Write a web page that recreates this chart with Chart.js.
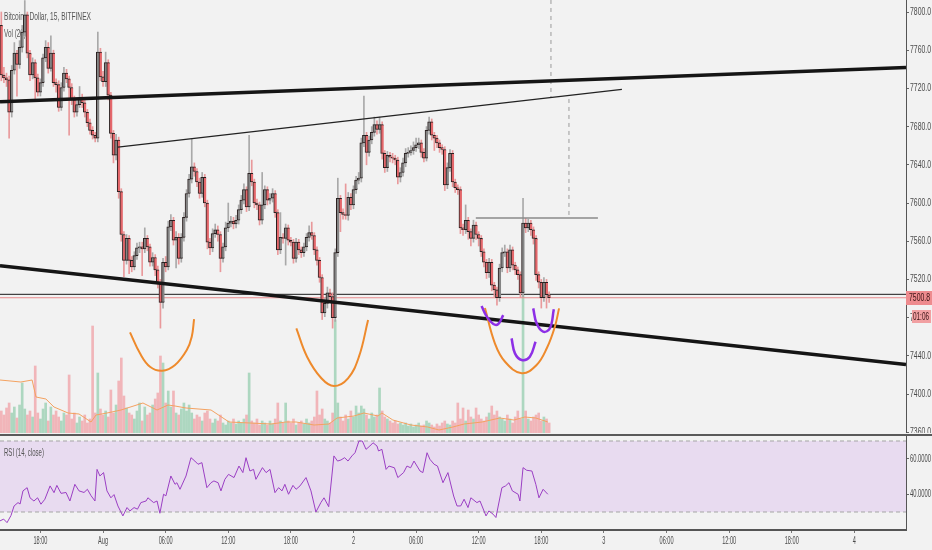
<!DOCTYPE html>
<html><head><meta charset="utf-8">
<script src="https://cdn.jsdelivr.net/npm/chart.js@4.4.1/dist/chart.umd.min.js"></script>
<style>
html,body{margin:0;padding:0;background:#f2f2f2;overflow:hidden;}
#wrap{position:relative;width:932px;height:550px;}
canvas{position:absolute;left:0;}
#c1{top:0;} #c2{top:433px;}
</style></head><body>
<div id="wrap"><canvas id="c1" width="932" height="433"></canvas><canvas id="c2" width="932" height="117"></canvas></div>
<script>
// ---------- DATA (15-minute candles, index 0 = Jul 31 14:15) ----------
const firstOpen = 7786;
const closes = [
7734,7731,7729,7695,7739,7757,7745,7763,7779,7797,
7757,7734,7747,7731,7716,7726,7752,7763,7741,7757,
7726,7724,7700,7721,7736,7730,7721,7708,7695,7703,
7710,7705,7695,7684,7676,7671,7668,7758,7732,7727,
7747,7713,7673,7650,7666,7612,7567,7540,7563,7540,
7533,7545,7553,7554,7552,7563,7554,7538,7543,7530,
7516,7496,7538,7533,7575,7582,7561,7564,7542,7564,
7585,7610,7625,7638,7633,7622,7610,7627,7600,7559,
7553,7568,7572,7567,7542,7554,7574,7579,7581,7578,
7582,7593,7603,7614,7596,7631,7622,7600,7598,7582,
7598,7614,7603,7605,7610,7590,7551,7564,7563,7574,
7561,7559,7542,7559,7551,7548,7554,7564,7569,7566,
7551,7540,7522,7485,7495,7506,7502,7480,7548,7605,
7590,7588,7587,7606,7598,7614,7624,7626,7663,7671,
7653,7666,7674,7682,7677,7682,7652,7637,7650,7648,
7647,7645,7627,7632,7642,7652,7653,7655,7658,7661,
7663,7653,7647,7676,7685,7671,7668,7663,7658,7656,
7619,7637,7652,7622,7616,7614,7574,7572,7582,7570,
7563,7577,7567,7563,7549,7538,7527,7538,7514,7509,
7501,7532,7548,7549,7532,7551,7535,7530,7525,7506,
7579,7574,7579,7572,7563,7525,7517,7501,7517,7504,
7500.8];
const highs = [
7800,7742,7736,7733,7744,7768,7760,7770,7786,7812,
7800,7760,7752,7750,7735,7730,7756,7770,7768,7775,
7760,7730,7728,7726,7742,7740,7733,7725,7712,7708,
7722,7714,7709,7698,7688,7680,7674,7779,7762,7738,
7758,7750,7716,7676,7672,7669,7615,7570,7567,7566,
7544,7549,7558,7559,7559,7574,7566,7557,7548,7546,
7534,7520,7542,7544,7581,7588,7585,7570,7568,7568,
7590,7614,7630,7667,7642,7636,7626,7632,7630,7603,
7563,7573,7578,7576,7570,7558,7580,7600,7586,7585,
7587,7598,7608,7620,7617,7671,7645,7625,7604,7601,
7632,7618,7617,7610,7615,7613,7593,7590,7568,7578,
7577,7564,7562,7563,7562,7554,7558,7568,7576,7580,
7569,7554,7543,7525,7500,7512,7510,7506,7552,7626,
7608,7594,7620,7611,7610,7618,7628,7632,7668,7712,
7674,7670,7680,7690,7686,7690,7685,7655,7654,7653,
7652,7650,7648,7637,7647,7657,7658,7660,7664,7668,
7668,7666,7657,7680,7690,7688,7674,7671,7666,7661,
7659,7642,7656,7655,7625,7619,7617,7578,7598,7585,
7573,7582,7580,7570,7566,7552,7541,7542,7541,7517,
7512,7536,7553,7556,7552,7556,7554,7538,7533,7528,
7605,7584,7583,7582,7575,7566,7528,7520,7522,7520,
7507];
const lows = [
7728,7726,7722,7668,7690,7735,7712,7741,7758,7775,
7752,7728,7730,7708,7712,7712,7722,7748,7736,7738,
7722,7716,7696,7697,7717,7726,7671,7703,7690,7691,
7700,7700,7690,7680,7672,7667,7664,7664,7728,7722,
7722,7708,7668,7642,7645,7605,7560,7523,7536,7526,
7528,7530,7541,7548,7524,7548,7550,7534,7534,7524,
7511,7469,7490,7528,7530,7571,7556,7532,7536,7538,
7560,7581,7606,7621,7628,7617,7605,7606,7596,7552,
7546,7549,7564,7560,7528,7538,7550,7570,7575,7573,
7574,7578,7589,7599,7591,7592,7618,7595,7593,7577,
7578,7594,7598,7599,7601,7585,7546,7547,7558,7535,
7556,7555,7537,7538,7546,7543,7544,7550,7560,7562,
7546,7535,7517,7478,7481,7490,7497,7469,7476,7544,
7570,7583,7583,7582,7593,7594,7610,7620,7622,7659,
7640,7649,7662,7670,7672,7673,7646,7632,7633,7643,
7642,7640,7620,7622,7628,7638,7648,7650,7651,7654,
7657,7648,7643,7644,7672,7666,7655,7658,7653,7651,
7613,7615,7633,7617,7611,7609,7568,7566,7568,7562,
7555,7559,7562,7555,7544,7533,7521,7522,7508,7502,
7493,7497,7528,7544,7527,7528,7530,7525,7520,7501,
7502,7569,7570,7566,7557,7519,7511,7490,7497,7490,
7496];
const volumes = [
88,72,100,120,80,104,60,112,200,96,
72,88,64,268,80,56,96,120,48,104,
72,88,64,48,80,72,232,56,80,40,
64,48,72,40,56,428,80,240,96,72,
88,64,172,80,112,208,300,148,100,80,
72,56,88,120,48,104,72,80,112,136,
160,308,280,120,168,104,168,80,72,96,
120,88,112,80,56,72,64,48,80,88,
56,40,56,48,72,40,32,48,40,56,
36,48,40,56,72,240,48,40,56,32,
48,40,32,48,36,56,120,48,40,120,
48,40,56,32,40,48,36,56,40,48,
64,168,72,96,56,48,40,80,452,120,
64,48,72,56,88,64,108,80,108,96,
72,56,80,64,72,180,88,64,56,48,
40,48,36,40,32,40,28,36,24,32,
40,28,32,48,40,32,24,36,28,40,
48,36,32,48,40,120,56,100,48,92,
64,56,100,72,56,48,64,80,108,72,
88,64,56,48,72,56,40,64,88,56,
552,88,56,48,64,72,80,48,64,56,
40];
// Vol(20) moving average, read at candle positions
const volMaIdx = [-0.5,7.5,11.8,13.3,17.1,20.2,25.6,29.8,34.4,36.3,40.5,45.9,54.3,59.7,63.9,66.6,70.8,80.4,87.3,95.3,103.4,109.1,113,119.9,125.6,128.7,135.2,139,144.4,145.9,150.1,157,163.5,167.8,173.1,177.4,184.3,191.1,196.5,200.7,204.9,209.5];
const volMaVal = [212,204,212,144,136,104,80,76,44,72,80,92,120,92,112,108,100,92,44,40,36,44,44,32,36,60,68,80,68,80,52,32,24,12,24,36,44,60,52,64,60,44];
// RSI(14), read at line vertices
const rsiIdx = [-0.5,0.9,2.2,3.7,4.9,6.4,7.2,8.3,9.9,11,12.5,13.9,15.2,16.7,18.7,20.2,21.3,22.9,24.8,26.3,28.2,29.8,31.7,33,34.4,35.9,36.7,37.8,39.2,40.5,42,43.2,44.7,46.6,48.2,49.3,50.9,52.2,53.5,55.5,56.2,58.4,59.7,60.8,62.2,63.1,65,66.6,67.3,68.5,70.8,72.7,74.2,75.4,76.9,78.8,80.4,81.5,83.1,84.2,85.7,87.1,89.2,91.1,92.6,93.8,95.3,96.7,97.6,100.1,101.5,103,104.9,106.3,107.6,108.7,110.1,111.8,113,114.5,116.8,118.7,120.6,122.5,123.7,125.5,127.5,128.9,130.2,131.6,132.9,134.4,135.6,137.1,138.4,139.8,141.3,142.5,144,144.6,145.9,147.5,148.6,150.7,152,154.2,155.5,156.9,158.2,160.5,161.6,163.2,164.3,165.9,167.2,169.3,171.2,173.4,174.7,176.1,177.4,178.9,180,182.3,183.5,185.8,186.9,188.5,189.6,191.9,193.3,194.6,195.9,198.1,198.8,200,201.4,203.4,204.9,206.1,207.7,209.5];
const rsiVal = [25,26,24,28,33.4,35.3,34.5,41.9,43.7,38,36.2,38,34.4,37.2,44.7,40.9,45,40.5,41,36.2,45.6,41.9,41,42.8,39.2,36.2,54,50.3,52.2,41.9,38,39.8,33.4,27.8,32.5,30.6,32.5,31.6,35.3,36.2,38,35.3,36.2,29.3,40,39.1,50.3,45.6,46.5,42.8,50.3,60.6,58.7,56.9,57.8,43.7,46.5,47.5,46.5,41.9,48.4,51.2,49.4,55.9,52.2,60.6,53.1,54,48.4,55,52.2,54,40.9,43.7,41.9,45.6,40,45,42.8,44.7,49.4,41.9,30,35.3,38,33,61.6,58.7,59.3,60.6,58.7,61.6,63.4,70,70,65.3,67.2,69,67.2,64.4,65.3,54,55.9,54.9,49.4,52.2,55.9,54.9,58.7,53.1,52.2,63.4,59.7,56.9,55.9,46.5,52.2,39,33.4,33.4,37.2,32.5,38,35.3,36.2,27.8,30.6,28.8,26.9,43.7,44.7,46.5,41.9,40,36.2,55,53.5,53.1,45.6,38,42.8,40];
// Axis ticks
const priceTicks = [7360,7400,7440,7480,7520,7560,7600,7640,7680,7720,7760,7800];
const rsiTicks = [60,40];
const rsiBands = [70,30];
const timeTickIdx = [15,39,63,87,111,135,159,183,207,231,255,279,303,327];
const timeTickLabels = ['18:00','Aug','06:00','12:00','18:00','2','06:00','12:00','18:00','3','06:00','12:00','18:00','4'];
// Drawings [candle index, price]
const upperTrend = [[-0.5,7706.1],[346.8,7741.9]];
const lowerTrend = [[-0.5,7534.4],[346.8,7430.9]];
const thinTrend = [[44.7,7658.6],[237.9,7718.9]];
const greyLevel = [[181.9,7584.3],[228.7,7584.3]];
const dashV1 = [[217.6,7587.5],[217.6,7713.1]];
const dashV2 = [[210.7,7812.6],[210.7,7711.0]];
const blackLevel = [[-0.5,7504.4],[346.8,7504.4]];
const orange1 = [[49.33,7464.6],[53.16,7442.6],[57.0,7428.6],[61.7,7424.4],[66.6,7430.4],[71.1,7446.1],[73.0,7460.0],[73.9,7478.5]];
const orange2 = [[113.1,7468.8],[117.2,7439.1],[122.7,7416.5],[127.5,7408.4],[132.9,7416.5],[137.1,7439.1],[140.6,7477.5]];
const orange3 = [[185.4,7490.1],[189.2,7453.1],[193.1,7433.8],[199.5,7421.7],[205.2,7430.4],[209.1,7447.9],[212.2,7470.5],[213.8,7489.7]];
const purple1 = [[184.1,7492.2],[186.1,7481.0],[188.6,7473.3],[190.5,7473.3],[192.4,7482.7]];
const purple2 = [[195.6,7458.3],[196.9,7442.6],[199.5,7435.6],[202.6,7439.1],[204.8,7454.8]];
const purple3 = [[203.9,7489.7],[205.2,7474.0],[207.7,7465.3],[210.3,7468.8],[211.8,7488.7]];
const X_MIN = -0.5, X_MAX = 346.8;

// ---------- derived ----------
const opens = [firstOpen].concat(closes.slice(0, -1));
const up = closes.map((c, i) => c >= opens[i]);
const lastClose = closes[closes.length - 1];
const pts = a => a.map(p => ({x: p[0], y: p[1]}));
const FONT = "'Liberation Sans', Arial, sans-serif";
const TXT = '#4a4a4a';
const FS = 11;
Chart.defaults.font.family = FONT;
Chart.defaults.font.size = FS;

// condensed text helper (reference text is horizontally narrow)
function sText(c, text, x, y, sx, align, color) {
  c.save();
  c.font = FS + 'px ' + FONT;
  c.fillStyle = color || TXT;
  c.textBaseline = 'middle';
  c.textAlign = align || 'left';
  c.translate(x, y); c.scale(sx, 1);
  c.fillText(text, 0, 0);
  c.restore();
}
function fitScale(c, text, target) {
  c.save(); c.font = FS + 'px ' + FONT; const w = c.measureText(text).width; c.restore();
  return target / w;
}

function lineDs(data, color, width, order, extra) {
  return Object.assign({type: 'line', data: pts(data), borderColor: color, borderWidth: width,
    pointRadius: 0, fill: false, tension: 0, order: order, yAxisID: 'y'}, extra || {});
}

const mainDecor = {
  id: 'mainDecor',
  beforeDraw(chart) {
    const c = chart.ctx; c.save(); c.fillStyle = '#f2f2f2'; c.fillRect(0, 0, chart.width, chart.height); c.restore();
  },
  beforeDatasetsDraw(chart) {
    const c = chart.ctx;
    const t1 = 'Bitcoin / Dollar, 15, BITFINEX';
    sText(c, t1, 4, 17, fitScale(c, t1, 87), 'left', '#555');
    sText(c, 'Vol (20)', 4, 34, fitScale(c, 'Vol (20)', 22), 'left', '#555');
  },
  afterDraw(chart) {
    const c = chart.ctx; const ys = chart.scales.y;
    const sx = fitScale(c, '7800.0', 21);
    priceTicks.forEach(v => sText(c, v.toFixed(1), 910, ys.getPixelForValue(v), sx, 'left', TXT));
    const y = Math.round(ys.getPixelForValue(lastClose));
    c.save();
    c.fillStyle = '#ee8b8e'; c.fillRect(906, y - 7, 26, 14);
    c.fillStyle = '#f1a0a2'; c.fillRect(912, y + 12, 19, 13);
    c.restore();
    sText(c, lastClose.toFixed(1), 909, y, sx, 'left', '#3a1214');
    sText(c, '01:06', 913, y + 18.5, fitScale(c, '01:06', 16), 'left', '#3a1214');
  }
};

new Chart(document.getElementById('c1'), {
  type: 'bar',
  data: { datasets: [
    lineDs(purple1, '#8d2fe6', 2.5, 1, {tension: 0.4}),
    lineDs(purple2, '#8d2fe6', 2.5, 1, {tension: 0.4}),
    lineDs(purple3, '#8d2fe6', 2.5, 1, {tension: 0.4}),
    lineDs(orange1, '#ee8a2c', 2, 2, {tension: 0.4}),
    lineDs(orange2, '#ee8a2c', 2, 2, {tension: 0.4}),
    lineDs(orange3, '#ee8a2c', 2, 2, {tension: 0.4}),
    lineDs(upperTrend, '#151515', 3.5, 3),
    lineDs(lowerTrend, '#151515', 3.5, 3),
    lineDs(thinTrend, '#222', 1.2, 3),
    lineDs(greyLevel, '#8a8a8a', 1.5, 3),
    lineDs(dashV1, '#9a9a9a', 1, 3, {borderDash: [4, 4]}),
    lineDs(dashV2, '#9a9a9a', 1, 3, {borderDash: [4, 4]}),
    { label: 'bodies', data: closes.map((c, i) => ({x: i, y: [opens[i], c]})),
      backgroundColor: up.map(u => u ? '#858585' : '#e4676b'), borderColor: '#2a2020',
      borderWidth: {left: 1, top: 1, bottom: 1, right: 0}, borderSkipped: false,
      barThickness: 3, grouped: false, order: 4, yAxisID: 'y' },
    { label: 'wicks', data: closes.map((c, i) => ({x: i, y: [lows[i], highs[i]]})),
      backgroundColor: up.map(u => u ? '#a9a9a9' : '#e9999b'),
      barThickness: 1, grouped: false, order: 5, yAxisID: 'y' },
    lineDs(blackLevel, '#1a1a1a', 1, 6),
    lineDs([[X_MIN, lastClose], [X_MAX, lastClose]], '#e98a8d', 1, 6),
    { type: 'line', data: volMaIdx.map((x, i) => ({x, y: volMaVal[i]})), borderColor: '#f4a261', borderWidth: 1,
      pointRadius: 0, fill: false, tension: 0, order: 7, yAxisID: 'yv' },
    { label: 'volume', data: volumes.map((v, i) => ({x: i, y: v})),
      backgroundColor: up.map(u => u ? 'rgba(150,205,175,0.75)' : 'rgba(240,160,165,0.75)'),
      barThickness: 2, grouped: false, order: 8, yAxisID: 'yv' }
  ]},
  options: {
    responsive: false, animation: false, devicePixelRatio: 1,
    layout: { padding: 0 },
    plugins: { legend: {display: false}, tooltip: {enabled: false} },
    scales: {
      x: { type: 'linear', min: X_MIN, max: X_MAX, display: false, offset: false },
      y: { position: 'right', min: 7359.2, max: 7812.57,
        afterBuildTicks: s => { s.ticks = priceTicks.map(v => ({value: v})); },
        afterFit: s => { s.width = 26; s.paddingTop = 0; s.paddingBottom = 0; },
        ticks: { display: false },
        grid: { drawOnChartArea: false, drawTicks: true, tickLength: 3, color: '#666' },
        border: { display: true, color: '#555', width: 1 } },
      yv: { display: false, min: 0, max: 1732 }
    }
  },
  plugins: [mainDecor]
});

const rsiDecor = {
  id: 'rsiDecor',
  beforeDraw(chart) {
    const c = chart.ctx; c.save(); c.fillStyle = '#f2f2f2'; c.fillRect(0, 0, chart.width, chart.height);
    c.fillStyle = '#5a5a5a'; c.fillRect(0, 1, chart.width, 2); c.restore();
  },
  afterDatasetsDraw(chart) {
    const c = chart.ctx;
    sText(c, 'RSI (14, close)', 4, 20, fitScale(c, 'RSI (14, close)', 40), 'left', '#555');
  },
  afterDraw(chart) {
    const c = chart.ctx; const xs = chart.scales.x, ys = chart.scales.y;
    const sxT = fitScale(c, '18:00', 14);
    timeTickIdx.forEach((v, i) => sText(c, timeTickLabels[i], xs.getPixelForValue(v), 108, sxT, 'center', TXT));
    const sxR = fitScale(c, '60.0000', 21);
    rsiTicks.forEach(v => sText(c, v.toFixed(4), 910, ys.getPixelForValue(v), sxR, 'left', TXT));
  }
};

new Chart(document.getElementById('c2'), {
  type: 'line',
  data: { datasets: [
    { data: rsiIdx.map((x, i) => ({x, y: rsiVal[i]})), borderColor: '#9b3fc4', borderWidth: 1,
      pointRadius: 0, tension: 0, fill: false, order: 1 },
    { data: [{x: X_MIN, y: rsiBands[0]}, {x: X_MAX, y: rsiBands[0]}], borderColor: '#a5a5a5', borderWidth: 1,
      borderDash: [4, 3], pointRadius: 0, fill: '+1', backgroundColor: '#e8dbf0', order: 3 },
    { data: [{x: X_MIN, y: rsiBands[1]}, {x: X_MAX, y: rsiBands[1]}], borderColor: '#a5a5a5', borderWidth: 1,
      borderDash: [4, 3], pointRadius: 0, fill: false, order: 2 }
  ]},
  options: {
    responsive: false, animation: false, devicePixelRatio: 1,
    layout: { padding: {top: 3, left: 0, right: 0, bottom: 0} },
    plugins: { legend: {display: false}, tooltip: {enabled: false} },
    scales: {
      x: { type: 'linear', min: X_MIN, max: X_MAX, offset: false,
        afterBuildTicks: s => { s.ticks = timeTickIdx.map(v => ({value: v})); },
        afterFit: s => { s.height = 20; s.paddingLeft = 0; s.paddingRight = 0; },
        ticks: { display: false },
        grid: { drawOnChartArea: false, drawTicks: true, tickLength: 3, color: '#777' },
        border: { display: true, color: '#555', width: 2 } },
      y: { position: 'right', min: 19.86, max: 72.82,
        afterBuildTicks: s => { s.ticks = rsiTicks.map(v => ({value: v})); },
        afterFit: s => { s.width = 26; s.paddingTop = 0; s.paddingBottom = 0; },
        ticks: { display: false },
        grid: { drawOnChartArea: false, drawTicks: true, tickLength: 3, color: '#666' },
        border: { display: true, color: '#555', width: 1 } }
    }
  },
  plugins: [rsiDecor]
});
</script></body></html>
